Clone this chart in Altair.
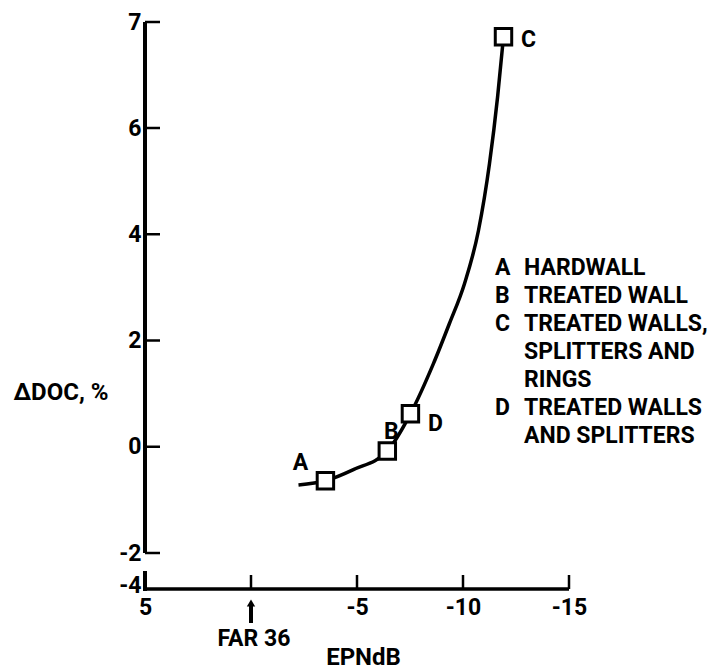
import altair as alt
import pandas as pd

# ---- data ----
point_labels = ["A", "B", "D", "C"]
point_epndb = [-3.51, -6.43, -7.52, -11.91]
point_ddoc = [-0.64, -0.08, 0.62, 6.86]

curve_epndb = [-2.24, -3.51, -4.83, -6.43, -7.52, -8.60, -9.36, -10.07, -10.73, -11.25, -11.63, -11.91]
curve_ddoc = [-0.72, -0.64, -0.43, -0.08, 0.62, 1.56, 2.32, 3.07, 4.07, 5.33, 6.29, 6.86]

x_tick_values = [0, -5, -10, -15]
x_label_values = [5, -5, -10, -15]
y_ticks = [7, 6, 4, 2, 0, -2, -4]
legend_keys_top = ["A", "B", "C"]
legend_keys_bottom = ["D"]
legend_lines = ["HARDWALL", "TREATED WALL", "TREATED WALLS,", "SPLITTERS AND",
                "RINGS", "TREATED WALLS", "AND SPLITTERS"]

FONT = "Roboto, DejaVu Sans Condensed, sans-serif"
FS = 23
LH = 28
W, H = 424, 567

pts = pd.DataFrame({"label": point_labels, "epndb": point_epndb, "ddoc": point_ddoc})
curve = pd.DataFrame({"i": list(range(len(curve_epndb))), "epndb": curve_epndb, "ddoc": curve_ddoc})
xt = pd.DataFrame({"v": x_tick_values})
yt = pd.DataFrame({"v": [v for v in y_ticks if v != -4]})
yaxis_df = pd.DataFrame({"x": [5], "y1": [-2], "y2": [7]})
xaxis_df = pd.DataFrame({"x1": [5], "x2": [-15]})
far_df = pd.DataFrame({"x": [0]})

xs = alt.Scale(domain=[-15, 5], reverse=True, nice=False, zero=False)
ys = alt.Scale(domain=[-4, -2, 6, 7], range=[563, 531, 106, 0], nice=False, zero=False)

x_axis = alt.Axis(values=x_label_values, ticks=False, domain=False, grid=False,
                  labelFont=FONT, labelFontSize=FS, labelFontWeight="bold", labelColor="black",
                  labelPadding=7, labelExpr="'' + datum.value", labelFlush=False, labelOverlap=False,
                  title="EPNdB", titleFont=FONT, titleFontSize=FS + 1, titleFontWeight="bold",
                  titleColor="black", titleX=218, titleY=68, titleBaseline="middle", titleAlign="center")
y_axis = alt.Axis(values=y_ticks, ticks=False, domain=False, grid=False,
                  labelFont=FONT, labelFontSize=FS, labelFontWeight="bold", labelColor="black",
                  labelPadding=4, labelExpr="'' + datum.value", labelFlush=False, labelOverlap=False,
                  title="ΔDOC, %", titleFont=FONT, titleFontSize=FS + 1, titleFontWeight="bold",
                  titleColor="black", titleAngle=0, titleAlign="left", titleBaseline="middle",
                  titleX=-132, titleY=370)

X = lambda f: alt.X(f, scale=xs, axis=x_axis)
Y = lambda f: alt.Y(f, scale=ys, axis=y_axis)

line = alt.Chart(curve).mark_line(color="black", strokeWidth=3.5, interpolate="monotone").encode(
    x=X("epndb:Q"), y=Y("ddoc:Q"), order="i:Q")

markers = alt.Chart(pts).mark_point(shape="square", size=270, filled=True, fill="white",
                                     stroke="black", strokeWidth=3, opacity=1).encode(
    x=X("epndb:Q"), y=Y("ddoc:Q"))

offsets = {"A": (-25, -18), "B": (4, -19), "D": (25, 10), "C": (25, 3)}
label_layers = []
for lab, (dx, dy) in offsets.items():
    label_layers.append(
        alt.Chart(pts).transform_filter(alt.datum.label == lab)
        .mark_text(font=FONT, fontSize=FS, fontWeight="bold", color="black", dx=dx, dy=dy,
                   align="center", baseline="middle")
        .encode(x=X("epndb:Q"), y=Y("ddoc:Q"), text="label:N")
    )

# axis lines (broken y-axis)
y_main = alt.Chart(yaxis_df).mark_rule(color="black", strokeWidth=4).encode(
    x=X("x:Q"), y=Y("y1:Q"), y2="y2:Q")
y_stub = alt.Chart(yaxis_df).mark_rule(color="black", strokeWidth=4).encode(
    x=X("x:Q"), y=alt.value(549), y2=alt.value(H + 2))
x_line = alt.Chart(xaxis_df).mark_rule(color="black", strokeWidth=3.5).encode(
    x=X("x1:Q"), x2="x2:Q", y=alt.value(H))

y_tick_marks = alt.Chart(yt).mark_rule(color="black", strokeWidth=2.5).encode(
    y=Y("v:Q"), x=alt.value(0), x2=alt.value(15))
x_tick_marks = alt.Chart(xt).mark_rule(color="black", strokeWidth=2.5).encode(
    x=X("v:Q"), y=alt.value(H), y2=alt.value(H - 14))

# FAR 36 arrow and label
far_rule = alt.Chart(far_df).mark_rule(color="black", strokeWidth=4).encode(
    x=X("x:Q"), y=alt.value(H + 16), y2=alt.value(H + 34))
far_head = alt.Chart(far_df).mark_point(shape="triangle-up", size=70, filled=True,
                                        color="black", opacity=1).encode(
    x=X("x:Q"), y=alt.value(H + 14))
far_text = alt.Chart(far_df).mark_text(
    text="FAR 36", font=FONT, fontSize=FS, fontWeight="bold", color="black",
    align="center", baseline="middle", dx=3).encode(
    x=X("x:Q"), y=alt.value(639 - 22))

# legend text block
one = pd.DataFrame({"a": [0]})
TXT = dict(font=FONT, fontSize=FS, fontWeight="bold", color="black",
           align="left", baseline="alphabetic", lineHeight=LH)
leg_keys_top = alt.Chart(one).mark_text(text=legend_keys_top, **TXT).encode(
    x=alt.value(495 - 145), y=alt.value(275 - 22))
leg_keys_bot = alt.Chart(one).mark_text(text=legend_keys_bottom, **TXT).encode(
    x=alt.value(495 - 145), y=alt.value(275 - 22 + 5 * LH))
leg_lines = alt.Chart(one).mark_text(text=legend_lines, **TXT).encode(
    x=alt.value(524 - 145), y=alt.value(275 - 22))

chart = alt.layer(
    line, y_main, y_stub, x_line, y_tick_marks, x_tick_marks, markers, *label_layers,
    far_rule, far_head, far_text, leg_keys_top, leg_keys_bot, leg_lines
).properties(
    width=W, height=H,
    autosize=alt.AutoSizeParams(type="none"),
    padding={"left": 145, "top": 22, "right": 711 - 145 - W, "bottom": 672 - 22 - H},
    background="white",
).configure_view(stroke=None)

chart.save("out.html", embed_options={"renderer": "svg", "actions": False})
